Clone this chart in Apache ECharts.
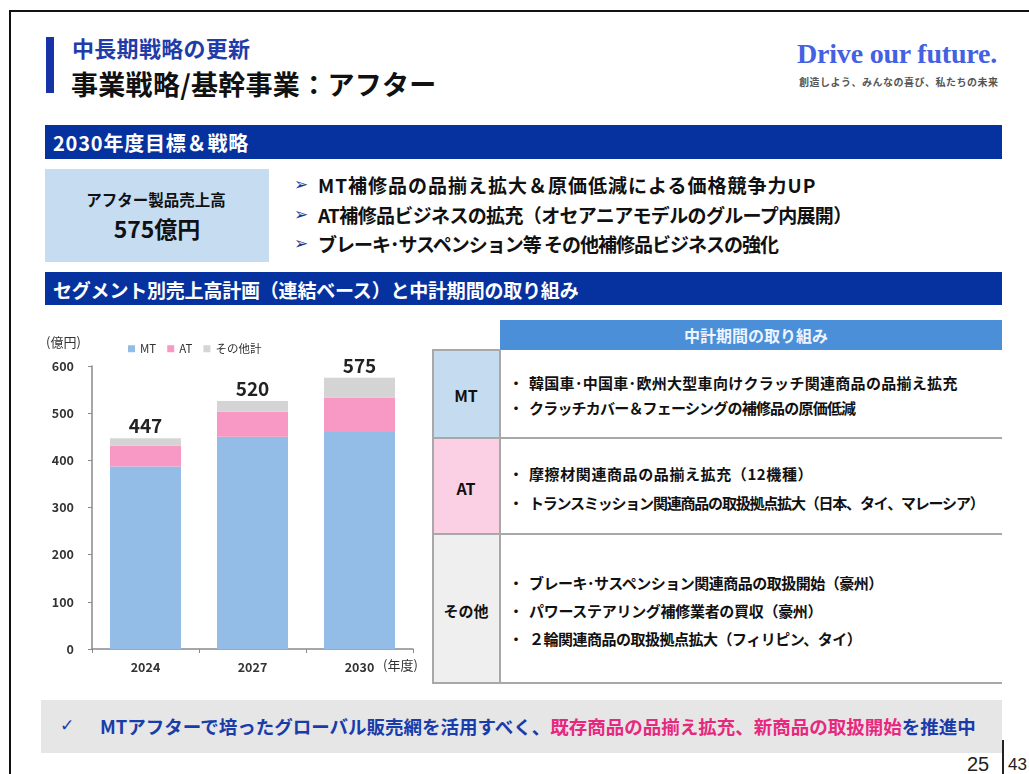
<!DOCTYPE html>
<html>
<head>
<meta charset="utf-8">
<script src="https://cdn.jsdelivr.net/npm/echarts@6/dist/echarts.min.js"></script>
<style>
  html, body { margin:0; padding:0; background:#fff; width:1029px; height:774px; overflow:hidden; }
  .a { position:absolute; }
  .t { position:absolute; white-space:nowrap; transform:translateY(-50%); line-height:1;
       font-family:"Noto Sans CJK JP","Noto Sans",sans-serif; font-weight:bold; color:#111; }
  .c { transform:translate(-50%,-50%); }
  .line { position:absolute; background:#a8a8a8; }
</style>
</head>
<body>
<!-- slide frame -->
<div class="a" style="left:9px;top:10px;width:1020px;height:2px;background:#111"></div>
<div class="a" style="left:9px;top:10px;width:2px;height:764px;background:#111"></div>

<!-- title -->
<div class="a" style="left:46px;top:37px;width:8px;height:56px;background:#1634a8"></div>
<div class="t" style="left:72px;top:46.5px;font-size:22px;color:#1f3caa;letter-spacing:0.3px">中長期戦略の更新</div>
<div class="t" style="left:71px;top:82.5px;font-size:27px;color:#111;letter-spacing:0.3px">事業戦略/基幹事業：アフター</div>
<div class="t" style="left:797px;top:54px;font-size:28px;color:#4461e2;font-family:'Liberation Serif','DejaVu Serif',serif;font-weight:bold;letter-spacing:-0.2px">Drive our future.</div>
<div class="t" style="left:799px;top:82px;font-size:10px;color:#555;letter-spacing:0.5px">創造しよう、みんなの喜び、私たちの未来</div>

<!-- band 1 -->
<div class="a" style="left:45px;top:125px;width:957px;height:34px;background:#0632a0"></div>
<div class="t" style="left:53px;top:143px;font-size:20px;color:#fff;letter-spacing:0.8px">2030年度目標＆戦略</div>

<!-- target box -->
<div class="a" style="left:45px;top:169px;width:224px;height:93px;background:#c6dcf1"></div>
<div class="t c" style="left:156px;top:200px;font-size:15.5px">アフター製品売上高</div>
<div class="t c" style="left:157px;top:228px;font-size:23px">575億円</div>

<!-- strategy bullets -->
<div class="t" style="left:294px;top:184px;font-size:17px;color:#1c3b8c;font-family:'DejaVu Sans',sans-serif">➢</div>
<div class="t" style="left:318px;top:184px;font-size:19px;letter-spacing:1px">MT補修品の品揃え拡大＆原価低減による価格競争力UP</div>
<div class="t" style="left:294px;top:214px;font-size:17px;color:#1c3b8c;font-family:'DejaVu Sans',sans-serif">➢</div>
<div class="t" style="left:318px;top:214px;font-size:19px;letter-spacing:-0.65px">AT補修品ビジネスの拡充（オセアニアモデルのグループ内展開）</div>
<div class="t" style="left:294px;top:243px;font-size:17px;color:#1c3b8c;font-family:'DejaVu Sans',sans-serif">➢</div>
<div class="t" style="left:318px;top:243px;font-size:19px;letter-spacing:-1px">ブレーキ･サスペンション等 その他補修品ビジネスの強化</div>

<!-- band 2 -->
<div class="a" style="left:45px;top:272px;width:957px;height:33px;background:#0632a0"></div>
<div class="t" style="left:53px;top:289px;font-size:19px;color:#fff;letter-spacing:-0.2px">セグメント別売上高計画（連結ベース）と中計期間の取り組み</div>

<!-- chart -->
<div id="chart" class="a" style="left:40px;top:320px;width:390px;height:360px"></div>

<!-- table -->
<div class="a" style="left:500px;top:320px;width:502px;height:30px;background:#4a8fd8"></div>
<div class="t c" style="left:756px;top:335px;font-size:16px;color:#eef4ff">中計期間の取り組み</div>
<div class="a" style="left:433px;top:350px;width:67px;height:88px;background:#c5dcf0"></div>
<div class="a" style="left:433px;top:438px;width:67px;height:96px;background:#fbd0e4"></div>
<div class="a" style="left:433px;top:534px;width:67px;height:149px;background:#efefef"></div>
<div class="line" style="left:432px;top:349px;width:69px;height:2px"></div>
<div class="line" style="left:432px;top:349px;width:2px;height:335px"></div>
<div class="line" style="left:499px;top:349px;width:2px;height:335px"></div>
<div class="line" style="left:432px;top:437px;width:570px;height:2px"></div>
<div class="line" style="left:432px;top:533px;width:570px;height:2px"></div>
<div class="line" style="left:432px;top:682px;width:570px;height:2px"></div>
<div class="t c" style="left:466px;top:395px;font-size:16px">MT</div>
<div class="t c" style="left:466px;top:488px;font-size:16px">AT</div>
<div class="t c" style="left:466px;top:610px;font-size:15px">その他</div>

<div class="t" style="left:509px;top:382px;font-size:14px">・</div>
<div class="t" style="left:529px;top:382px;font-size:15px;letter-spacing:0.3px">韓国車･中国車･欧州大型車向けクラッチ関連商品の品揃え拡充</div>
<div class="t" style="left:509px;top:407px;font-size:14px">・</div>
<div class="t" style="left:529px;top:407px;font-size:15px;letter-spacing:-0.8px">クラッチカバー＆フェーシングの補修品の原価低減</div>
<div class="t" style="left:509px;top:473px;font-size:14px">・</div>
<div class="t" style="left:529px;top:473px;font-size:15px;letter-spacing:0.6px">摩擦材関連商品の品揃え拡充（12機種）</div>
<div class="t" style="left:509px;top:502px;font-size:14px">・</div>
<div class="t" style="left:529px;top:502px;font-size:15px;letter-spacing:-1.2px">トランスミッション関連商品の取扱拠点拡大（日本、タイ、マレーシア）</div>
<div class="t" style="left:509px;top:582px;font-size:14px">・</div>
<div class="t" style="left:529px;top:582px;font-size:15px;letter-spacing:-0.5px">ブレーキ･サスペンション関連商品の取扱開始（豪州）</div>
<div class="t" style="left:509px;top:610px;font-size:14px">・</div>
<div class="t" style="left:529px;top:610px;font-size:15px;letter-spacing:-0.3px">パワーステアリング補修業者の買収（豪州）</div>
<div class="t" style="left:509px;top:638px;font-size:14px">・</div>
<div class="t" style="left:529px;top:638px;font-size:15px;letter-spacing:-0.5px">２輪関連商品の取扱拠点拡大（フィリピン、タイ）</div>

<!-- bottom banner -->
<div class="a" style="left:41px;top:700px;width:961px;height:53px;background:#e6e6e6"></div>
<div class="t" style="left:60px;top:725px;font-size:17px;color:#1a3caa;font-family:'DejaVu Sans',sans-serif">✓</div>
<div class="t" style="left:100px;top:726px;font-size:18.5px;color:#1a3caa">MTアフターで培ったグローバル販売網を活用すべく、<span style="color:#e8287f">既存商品の品揃え拡充、新商品の取扱開始</span>を推進中</div>

<!-- page number -->
<div class="t" style="left:967px;top:764px;font-size:20px;font-weight:normal;color:#222;font-family:'Liberation Sans',Arial,sans-serif">25</div>
<div class="a" style="left:1002px;top:740px;width:2px;height:34px;background:#222"></div>
<div class="t" style="left:1008px;top:764px;font-size:17px;font-weight:normal;color:#222;font-family:'Liberation Sans',Arial,sans-serif">43</div>

<script>
const categories = ['2024', '2027', '2030'];
const seriesNames = ['MT', 'AT', 'その他計'];
const mtValues = [387, 450, 460];
const atValues = [44, 53, 73];
const otherValues = [16, 23, 42];
const totalLabels = [447, 520, 575];
const yMin = 0, yMax = 600, yInterval = 100;
const unitLabel = '(億円)';
const yearLabel = '(年度)';

const chart = echarts.init(document.getElementById('chart'), null, { renderer: 'canvas' });
const fontFamily = '"Noto Sans CJK JP","Noto Sans",sans-serif';
chart.setOption({
  animation: false,
  grid: { left: 52, right: 17, top: 46, bottom: 31 },
  legend: {
    data: seriesNames,
    left: 83, top: 18,
    icon: 'rect', itemWidth: 7, itemHeight: 7, itemGap: 11,
    textStyle: { fontSize: 11.5, color: '#333', fontFamily: fontFamily }
  },
  graphic: [
    { type: 'text', left: 6, top: 16, style: { text: unitLabel, fontSize: 13, fill: '#333', fontFamily: fontFamily } },
    { type: 'text', left: 343, top: 339, style: { text: yearLabel, fontSize: 13, fill: '#333', fontFamily: fontFamily } }
  ],
  xAxis: {
    type: 'category', data: categories,
    axisLine: { lineStyle: { color: '#8a8a8a', width: 1.5 } },
    axisTick: { show: true, length: 4, lineStyle: { color: '#8a8a8a' } },
    axisLabel: { fontSize: 12.5, color: '#333', margin: 12, fontFamily: fontFamily, fontWeight: 'bold' }
  },
  yAxis: {
    type: 'value', min: yMin, max: yMax, interval: yInterval,
    axisLine: { show: true, lineStyle: { color: '#8a8a8a', width: 1.5 } },
    axisTick: { show: true, length: 4, lineStyle: { color: '#8a8a8a' } },
    splitLine: { show: false },
    axisLabel: { fontSize: 12.5, color: '#333', margin: 18, fontFamily: fontFamily, fontWeight: 'bold' }
  },
  series: [
    { name: seriesNames[0], type: 'bar', stack: 'total', data: mtValues, barWidth: 71, itemStyle: { color: '#93bde6' } },
    { name: seriesNames[1], type: 'bar', stack: 'total', data: atValues, barWidth: 71, itemStyle: { color: '#f898c5' } },
    { name: seriesNames[2], type: 'bar', stack: 'total', data: otherValues, barWidth: 71, itemStyle: { color: '#d4d4d4' },
      label: { show: true, position: 'top', distance: 3, fontSize: 19, fontWeight: 'bold', color: '#222', fontFamily: fontFamily,
        formatter: p => String(totalLabels[p.dataIndex]) } }
  ]
});
</script>
</body>
</html>
